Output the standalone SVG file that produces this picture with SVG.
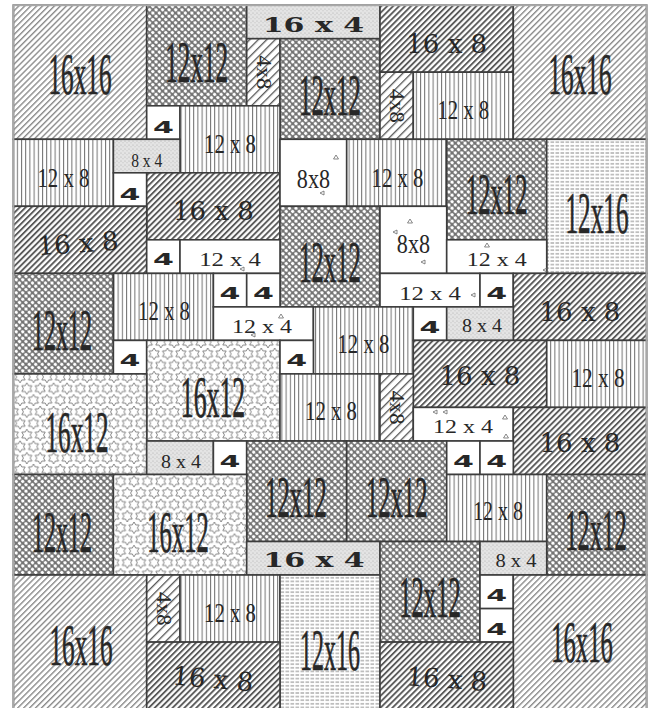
<svg xmlns="http://www.w3.org/2000/svg" width="657" height="708" viewBox="0 0 657 708">
<style>
.b{stroke:#3d3d3d;stroke-width:1.6}
.L{fill:url(#pL)} .D{fill:url(#pD)} .M{fill:url(#pM)} .C{fill:url(#pC)} .V{fill:url(#pV)} .H{fill:url(#pH)} .S{fill:url(#pS)} .T{fill:url(#pT)} .W{fill:#fff}
text{fill:#272727;text-anchor:middle}
.big{font-family:"Liberation Serif",serif;font-size:60px;stroke:#272727;stroke-width:0.7}
.mid{font-family:"Liberation Serif",serif;font-size:28px}
.sm{font-family:"Liberation Serif",serif;font-size:19px}
.wd{font-family:"DejaVu Serif",serif;font-size:26px}
.w4{font-family:"DejaVu Serif",serif;font-size:20px;font-weight:bold}
.f{font-family:"DejaVu Sans",sans-serif;font-size:15px;font-weight:bold}
.rt{font-family:"Liberation Serif",serif;font-size:20px}
.tri{fill:none;stroke:#6a6a6a;stroke-width:0.8}
</style>
<defs>
<pattern id="pL" width="4.2" height="4.2" patternUnits="userSpaceOnUse" patternTransform="rotate(45)"><rect width="4.2" height="4.2" fill="#fff"/><rect width="1.4" height="4.2" fill="#8c8c8c"/></pattern>
<pattern id="pD" width="4.2" height="4.2" patternUnits="userSpaceOnUse" patternTransform="rotate(45)"><rect width="4.2" height="4.2" fill="#fff"/><rect width="1.9" height="4.2" fill="#5a5a5a"/></pattern>
<pattern id="pM" width="6" height="6" patternUnits="userSpaceOnUse" patternTransform="rotate(45)"><rect width="6" height="6" fill="#fff"/><rect width="1.3" height="6" fill="#555"/></pattern>
<pattern id="pC" width="4.6" height="4.6" patternUnits="userSpaceOnUse" patternTransform="rotate(45)"><rect width="4.6" height="4.6" fill="#737373"/><circle cx="2.3" cy="2.3" r="1.72" fill="#fff"/></pattern>
<pattern id="pV" width="4.2" height="10" patternUnits="userSpaceOnUse"><rect width="4.2" height="10" fill="#fff"/><rect width="1" height="10" fill="#707070"/></pattern>
<pattern id="pH" width="5" height="3.6" patternUnits="userSpaceOnUse"><rect width="5" height="3.6" fill="#fff"/><rect x="0.5" y="1.3" width="3.6" height="1" fill="#8a8a8a"/></pattern>
<pattern id="pS" width="4" height="4" patternUnits="userSpaceOnUse"><rect width="4" height="4" fill="#e4e4e4"/><circle cx="1" cy="1" r="0.6" fill="#a8a8a8"/><circle cx="3" cy="2.8" r="0.5" fill="#b4b4b4"/></pattern>
<polygon id="star" points="0,-5.8 1.68,-2.91 5.02,-2.9 3.36,0 5.02,2.9 1.68,2.91 0,5.8 -1.68,2.91 -5.02,2.9 -3.36,0 -5.02,-2.9 -1.68,-2.91" fill="none" stroke="#7a7a7a" stroke-width="0.9"/>
<pattern id="pT" width="13.4" height="23.2" patternUnits="userSpaceOnUse"><rect width="13.4" height="23.2" fill="#fff"/><use href="#star" x="6.7" y="5.8"/><use href="#star" x="0" y="17.4"/><use href="#star" x="13.4" y="17.4"/><use href="#star" x="6.7" y="29"/><use href="#star" x="0" y="-5.8"/><use href="#star" x="13.4" y="-5.8"/></pattern>
</defs>
<rect width="657" height="708" fill="#fff"/>
<g id="blocks">
<g id="b01"><rect class="b L" x="13.4" y="5.2" width="133.3" height="134.1"/><text class="big" transform="translate(80 93.5) scale(.42 1)">16x16</text></g>
<g id="b02"><rect class="b C" x="146.7" y="5.2" width="100" height="100.6"/><text class="big" transform="translate(196.7 81.5) scale(.42 1)">12x12</text></g>
<g id="b03"><rect class="b S" x="246.7" y="5.2" width="133.3" height="33.5"/><text class="w4" transform="translate(313.4 32) scale(1.5 1)">16 x 4</text></g>
<g id="b04"><rect class="b M" x="246.7" y="38.7" width="33.3" height="67.1"/><text class="rt" transform="translate(263.4 72.3) rotate(90) scale(1.13 1)" y="6.5">4x8</text></g>
<g id="b05"><rect class="b C" x="280" y="38.7" width="100" height="100.6"/><text class="big" transform="translate(330 115) scale(.41 1)">12x12</text></g>
<g id="b06"><rect class="b D" x="380" y="5.2" width="133.3" height="67"/><text class="wd" x="446.7" y="53">16 x 8</text></g>
<g id="b07"><rect class="b M" x="380" y="72.2" width="33.3" height="67.1"/><text class="rt" transform="translate(396.7 105.8) rotate(90) scale(1.13 1)" y="6.5">4x8</text></g>
<g id="b08"><rect class="b V" x="413.3" y="72.2" width="100" height="67.1"/><text class="mid" transform="translate(463.3 118.5) scale(.74 1)">12 x 8</text></g>
<g id="b09"><rect class="b L" x="513.3" y="5.2" width="133.3" height="134.1"/><text class="big" transform="translate(580 93.5) scale(.42 1)">16x16</text></g>
<g id="b10"><rect class="b W" x="146.7" y="105.8" width="33.3" height="33.5"/><text class="f" transform="translate(163.4 132.5) scale(2 1)">4</text></g>
<g id="b11"><rect class="b V" x="180" y="105.8" width="100" height="67"/><text class="mid" transform="translate(230 152.5) scale(.74 1)">12 x 8</text></g>
<g id="b12"><rect class="b V" x="13.4" y="139.3" width="100" height="67"/><text class="mid" transform="translate(63.4 186.5) scale(.74 1)">12 x 8</text></g>
<g id="b13"><rect class="b S" x="113.4" y="139.3" width="66.6" height="33.5"/><text class="sm" transform="translate(146.7 167) scale(.82 1)">8 x 4</text></g>
<g id="b14"><rect class="b W" x="113.4" y="172.8" width="33.3" height="33.5"/><text class="f" transform="translate(130 199.5) scale(2 1)">4</text></g>
<g id="b15"><rect class="b D" x="146.7" y="172.8" width="133.3" height="67"/><text class="wd" x="213.4" y="220">16 x 8</text></g>
<g id="b16"><rect class="b D" x="13.4" y="206.3" width="133.3" height="67.1"/><text class="wd" x="78" y="252.5" transform="rotate(-4 78 244)">16 x 8</text></g>
<g id="b17"><rect class="b W" x="280" y="139.3" width="66.7" height="67"/><text class="mid" transform="translate(313.4 188) scale(.79 1)">8x8</text><polygon class="tri" points="336,155 338.5,159 333.5,159"/><polygon class="tri" points="320,193 324,191 324,195"/></g>
<g id="b18"><rect class="b V" x="346.7" y="139.3" width="100" height="67"/><text class="mid" transform="translate(397.5 186.5) scale(.74 1)">12 x 8</text></g>
<g id="b19"><rect class="b C" x="446.7" y="139.3" width="100" height="100.5"/><text class="big" transform="translate(496.7 214) scale(.41 1)">12x12</text></g>
<g id="b20"><rect class="b H" x="546.7" y="139.3" width="99.9" height="134.1"/><text class="big" transform="translate(597 233) scale(.42 1)">12x16</text></g>
<g id="b21"><rect class="b C" x="280" y="206.3" width="100" height="100.6"/><text class="big" transform="translate(330 281.5) scale(.41 1)">12x12</text></g>
<g id="b22"><rect class="b W" x="380" y="206.3" width="66.7" height="67.1"/><text class="mid" transform="translate(413.4 253) scale(.79 1)">8x8</text><polygon class="tri" points="393,232 397,230 397,234"/><polygon class="tri" points="410,219 412.5,223 407.5,223"/><polygon class="tri" points="421,262 425,260 425,264"/></g>
<g id="b23"><rect class="b W" x="446.7" y="239.8" width="100" height="33.6"/><text class="sm" transform="translate(496.7 266) scale(1.26 1)">12 x 4</text><polygon class="tri" points="487,243 489.5,247 484.5,247"/><polygon class="tri" points="543,270 547,268 547,272"/></g>
<g id="b24"><rect class="b W" x="146.7" y="239.8" width="33.3" height="33.6"/><text class="f" transform="translate(163.4 265) scale(2 1)">4</text></g>
<g id="b25"><rect class="b W" x="180" y="239.8" width="100" height="33.6"/><text class="sm" transform="translate(230 266) scale(1.3 1)">12 x 4</text><polygon class="tri" points="240,269 244,267 244,271"/></g>
<g id="b26"><rect class="b C" x="13.4" y="273.4" width="100" height="100.5"/><text class="big" transform="translate(62 350) scale(.4 1)">12x12</text></g>
<g id="b27"><rect class="b V" x="113.4" y="273.4" width="100" height="67"/><text class="mid" transform="translate(164 320) scale(.74 1)">12 x 8</text></g>
<g id="b28"><rect class="b W" x="213.4" y="273.4" width="33.3" height="33.5"/><text class="f" transform="translate(230 299) scale(2 1)">4</text></g>
<g id="b29"><rect class="b W" x="246.7" y="273.4" width="33.3" height="33.5"/><text class="f" transform="translate(263.4 299) scale(2 1)">4</text></g>
<g id="b30"><rect class="b W" x="380" y="273.4" width="100" height="33.5"/><text class="sm" transform="translate(430 299.5) scale(1.3 1)">12 x 4</text><polygon class="tri" points="471,295 475,293 475,297"/></g>
<g id="b31"><rect class="b W" x="480" y="273.4" width="33.3" height="33.5"/><text class="f" transform="translate(496.7 299) scale(2 1)">4</text></g>
<g id="b32"><rect class="b D" x="513.3" y="273.4" width="133.3" height="67"/><text class="wd" x="580" y="320.5">16 x 8</text></g>
<g id="b33"><rect class="b W" x="213.4" y="306.9" width="100" height="33.5"/><text class="sm" transform="translate(262 333) scale(1.26 1)">12 x 4</text><polygon class="tri" points="281,314 283.5,318 278.5,318"/><polygon class="tri" points="251,335 255,333 255,337"/></g>
<g id="b34"><rect class="b V" x="313.4" y="306.9" width="100" height="67"/><text class="mid" transform="translate(363.4 353) scale(.74 1)">12 x 8</text></g>
<g id="b35"><rect class="b W" x="413.3" y="306.9" width="33.4" height="33.5"/><text class="f" transform="translate(430 332.5) scale(2 1)">4</text></g>
<g id="b36"><rect class="b S" x="446.7" y="306.9" width="66.6" height="33.5"/><text class="sm" transform="translate(482 332) scale(1.05 1)">8 x 4</text></g>
<g id="b37"><rect class="b W" x="113.4" y="340.4" width="33.3" height="33.5"/><text class="f" transform="translate(130 366) scale(2 1)">4</text></g>
<g id="b38"><rect class="b T" x="146.7" y="340.4" width="133.3" height="100.6"/><text class="big" transform="translate(213 417) scale(.43 1)">16x12</text></g>
<g id="b39"><rect class="b W" x="280" y="340.4" width="33.4" height="33.5"/><text class="f" transform="translate(296.7 366) scale(2 1)">4</text></g>
<g id="b40"><rect class="b D" x="413.3" y="340.4" width="133.4" height="67"/><text class="wd" x="480" y="385">16 x 8</text></g>
<g id="b41"><rect class="b V" x="546.7" y="340.4" width="99.9" height="67"/><text class="mid" transform="translate(598 386.5) scale(.76 1)">12 x 8</text></g>
<g id="b42"><rect class="b T" x="13.4" y="373.9" width="133.3" height="100.6"/><text class="big" transform="translate(77 452) scale(.42 1)">16x12</text></g>
<g id="b43"><rect class="b V" x="280" y="373.9" width="100" height="67.1"/><text class="mid" transform="translate(331 420) scale(.74 1)">12 x 8</text></g>
<g id="b44"><rect class="b M" x="380" y="373.9" width="33.3" height="67.1"/><text class="rt" transform="translate(396.7 407.5) rotate(90) scale(1.13 1)" y="6.5">4x8</text></g>
<g id="b45"><rect class="b W" x="413.3" y="407.4" width="100" height="33.6"/><text class="sm" transform="translate(463 433) scale(1.26 1)">12 x 4</text><polygon class="tri" points="433,412 437,410 437,414"/><polygon class="tri" points="443,412 447,410 447,414"/><polygon class="tri" points="505,415 507.5,419 502.5,419"/><polygon class="tri" points="506,434 508.5,438 503.5,438"/></g>
<g id="b46"><rect class="b D" x="513.3" y="407.4" width="133.3" height="67.1"/><text class="wd" x="580" y="452">16 x 8</text></g>
<g id="b47"><rect class="b S" x="146.7" y="441" width="66.7" height="33.5"/><text class="sm" transform="translate(181 468) scale(1.05 1)">8 x 4</text></g>
<g id="b48"><rect class="b W" x="213.4" y="441" width="33.3" height="33.5"/><text class="f" transform="translate(230 467) scale(2 1)">4</text></g>
<g id="b49"><rect class="b C" x="246.7" y="441" width="100" height="100.5"/><text class="big" transform="translate(296 517) scale(.41 1)">12x12</text></g>
<g id="b50"><rect class="b C" x="346.7" y="441" width="100" height="100.5"/><text class="big" transform="translate(396.7 517) scale(.41 1)">12x12</text></g>
<g id="b51"><rect class="b W" x="446.7" y="441" width="33.3" height="33.5"/><text class="f" transform="translate(463.4 467) scale(2 1)">4</text></g>
<g id="b52"><rect class="b W" x="480" y="441" width="33.3" height="33.5"/><text class="f" transform="translate(496.7 467) scale(2 1)">4</text></g>
<g id="b53"><rect class="b C" x="13.4" y="474.5" width="100" height="100.5"/><text class="big" transform="translate(62 551.5) scale(.4 1)">12x12</text></g>
<g id="b54"><rect class="b T" x="113.4" y="474.5" width="133.3" height="100.5"/><text class="big" transform="translate(178 552) scale(.41 1)">16x12</text></g>
<g id="b55"><rect class="b V" x="446.7" y="474.5" width="100" height="67"/><text class="mid" transform="translate(498 520) scale(.71 1)">12 x 8</text></g>
<g id="b56"><rect class="b C" x="546.7" y="474.5" width="99.9" height="100.5"/><text class="big" transform="translate(596 550) scale(.41 1)">12x12</text></g>
<g id="b57"><rect class="b S" x="246.7" y="541.5" width="133.3" height="33.5"/><text class="w4" transform="translate(314 567) scale(1.5 1)">16 x 4</text></g>
<g id="b58"><rect class="b C" x="380" y="541.5" width="100" height="100.6"/><text class="big" transform="translate(430 617) scale(.41 1)">12x12</text></g>
<g id="b59"><rect class="b S" x="480" y="541.5" width="66.7" height="33.5"/><text class="sm" transform="translate(516 566.5) scale(1.08 1)">8 x 4</text></g>
<g id="b60"><rect class="b L" x="13.4" y="575" width="133.3" height="134.1"/><text class="big" transform="translate(81 665) scale(.42 1)">16x16</text></g>
<g id="b61"><rect class="b M" x="146.7" y="575" width="33.3" height="67.1"/><text class="rt" transform="translate(163.4 608.6) rotate(90) scale(1.13 1)" y="6.5">4x8</text></g>
<g id="b62"><rect class="b V" x="180" y="575" width="100" height="67.1"/><text class="mid" transform="translate(230 621.5) scale(.74 1)">12 x 8</text></g>
<g id="b63"><rect class="b H" x="280" y="575" width="100" height="134.1"/><text class="big" transform="translate(330 670) scale(.4 1)">12x16</text></g>
<g id="b64"><rect class="b W" x="480" y="575" width="33.3" height="33.6"/><text class="f" transform="translate(496.7 601) scale(2 1)">4</text></g>
<g id="b65"><rect class="b W" x="480" y="608.6" width="33.3" height="33.5"/><text class="f" transform="translate(496.7 635) scale(2 1)">4</text></g>
<g id="b66"><rect class="b L" x="513.3" y="575" width="133.3" height="134.1"/><text class="big" transform="translate(582 662) scale(.41 1)">16x16</text></g>
<g id="b67"><rect class="b D" x="146.7" y="642.1" width="133.3" height="67"/><text class="wd" x="213" y="688" transform="rotate(5 213 678)">16 x 8</text></g>
<g id="b68"><rect class="b D" x="380" y="642.1" width="133.3" height="67"/><text class="wd" x="447" y="688" transform="rotate(4 447 678)">16 x 8</text></g>
</g>
<g id="connectors"/>
<rect x="13.4" y="5.2" width="633.2" height="704" fill="none" stroke="#a8a8a8" stroke-width="2"/>
</svg>
